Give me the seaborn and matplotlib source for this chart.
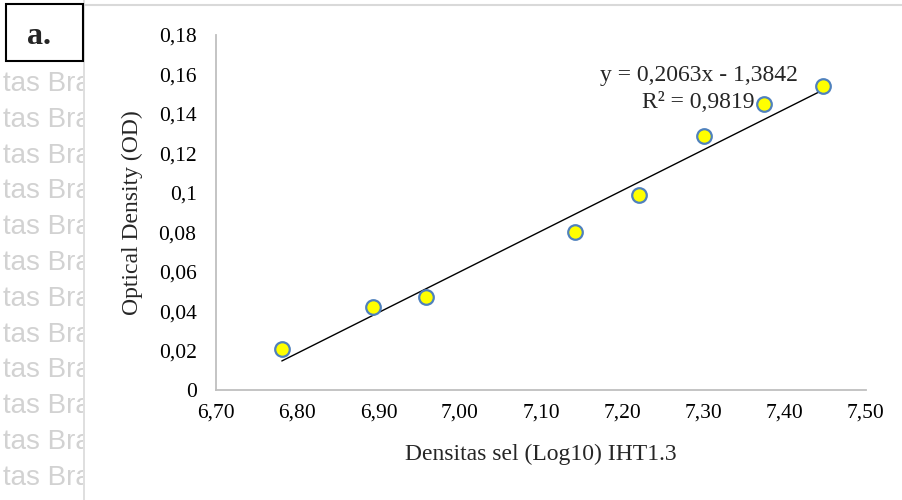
import matplotlib
matplotlib.use("Agg")
import matplotlib.pyplot as plt
import seaborn as sns
import numpy as np
import pandas as pd
from matplotlib.patches import Rectangle
from matplotlib.lines import Line2D

# Data
log_density = [6.781, 6.893, 6.958, 7.142, 7.221, 7.300, 7.374, 7.447]
optical_density = [0.021, 0.042, 0.047, 0.080, 0.099, 0.129, 0.145, 0.154]
slope = 0.2063
intercept = -1.3842
x_ticks = [6.70, 6.80, 6.90, 7.00, 7.10, 7.20, 7.30, 7.40, 7.50]
x_labels = ["6,70", "6,80", "6,90", "7,00", "7,10", "7,20", "7,30", "7,40", "7,50"]
y_ticks = [0, 0.02, 0.04, 0.06, 0.08, 0.10, 0.12, 0.14, 0.16, 0.18]
y_labels = ["0", "0,02", "0,04", "0,06", "0,08", "0,1", "0,12", "0,14", "0,16", "0,18"]

sns.set_theme(style="white")
plt.rcParams['font.family'] = ['Liberation Serif', 'DejaVu Serif']

df = pd.DataFrame({"x": log_density, "y": optical_density})

W, H = 902, 500
fig = plt.figure(figsize=(9.02, 5.0), dpi=100)
ax = fig.add_axes([216 / W, 1 - 390 / H, (866 - 216) / W, (390 - 35) / H])

# trendline
xs = np.array([min(log_density), max(log_density)])
sns.lineplot(x=xs, y=slope * xs + intercept, ax=ax, color="black", linewidth=1.0, zorder=2)
sns.scatterplot(data=df, x="x", y="y", ax=ax, s=110, color="#ffff00",
                edgecolor="#4f81bd", linewidth=1.6, zorder=3)

ax.set_xlim(6.70, 7.50)
ax.set_ylim(0, 0.18)
ax.set_xticks(x_ticks)
ax.set_xticklabels(x_labels)
ax.set_yticks(y_ticks)
ax.set_yticklabels(y_labels)
ax.tick_params(axis="x", labelsize=15.5, length=0, pad=10, colors="black")
ax.tick_params(axis="y", labelsize=15.5, length=0, pad=14, colors="black")
for s in ["top", "right"]:
    ax.spines[s].set_visible(False)
for s in ["left", "bottom"]:
    ax.spines[s].set_color("#bfbfbf")
    ax.spines[s].set_linewidth(1.3)
ax.grid(False)
ax.set_xlabel("Densitas sel (Log10) IHT1.3", fontsize=17, labelpad=15)
ax.set_ylabel("Optical Density (OD)", fontsize=17, labelpad=11)

def px_to_data(px, py):
    disp = fig.transFigure.transform((px / W, 1 - py / H))
    return ax.transData.inverted().transform(disp)

ex, ey = px_to_data(699, 75)
ax.text(ex, ey, "y = 0,2063x - 1,3842", fontsize=17, ha="center", va="center")
rx, ry = px_to_data(698, 102)
ax.text(rx, ry, "R² = 0,9819", fontsize=17, ha="center", va="center")

# watermark on the left
clip = Rectangle((0, 0), 83, 500, transform=None)
for i in range(12):
    yy = 1 - (84 + 35.8 * i) / H
    t = fig.text(91 / W, yy, "tas Bra", fontsize=20, color="#d2d2d2",
                 family="Liberation Sans", va="center", ha="right")
    t.set_clip_path(clip)
fig.add_artist(Line2D([83.5 / W, 83.5 / W], [0, 1], color="#d9d9d9", lw=1.2))
fig.add_artist(Line2D([83.5 / W, 1], [1 - 5 / H, 1 - 5 / H], color="#d9d9d9", lw=1.5))

# "a." box
fig.add_artist(Rectangle((6 / W, 1 - 61 / H), 77 / W, 57 / H, transform=fig.transFigure,
                         facecolor="white", edgecolor="black", lw=1.5, zorder=5))
fig.text(39 / W, 1 - 37 / H, "a.", fontsize=23, fontweight="bold", ha="center", va="center", zorder=6)

fig.savefig("out.png", dpi=100)
